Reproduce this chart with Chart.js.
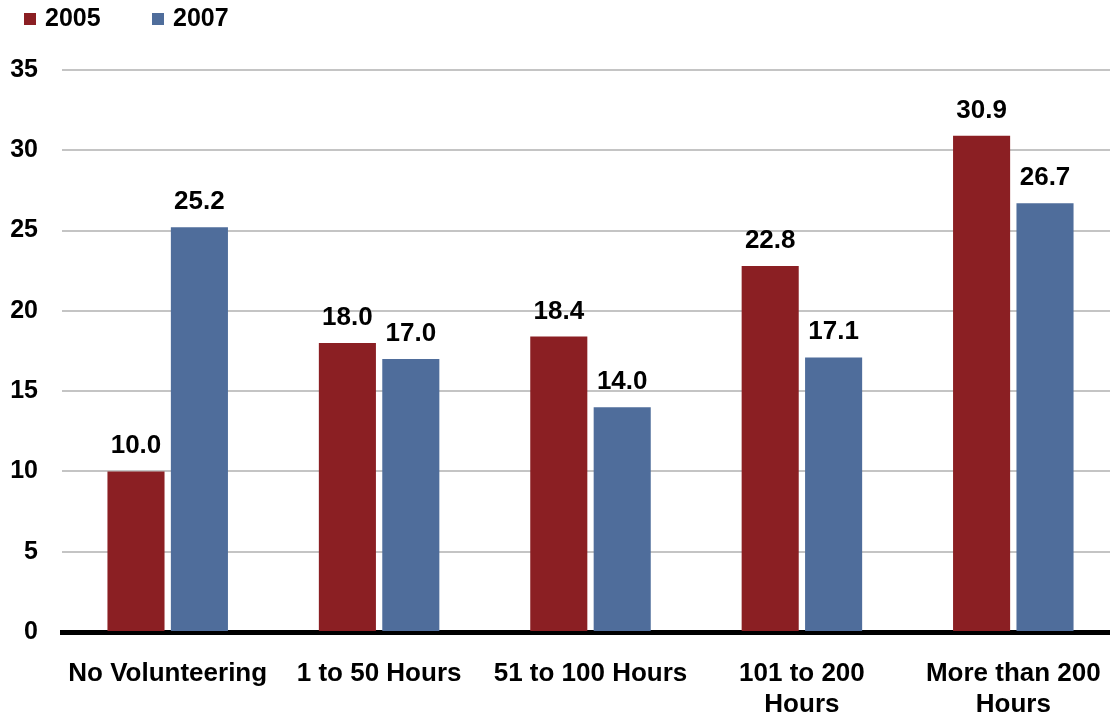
<!DOCTYPE html>
<html lang="en">

<head>
    <meta charset="UTF-8">
    <title>Volunteering Hours 2005 vs 2007</title>
    <script src="https://cdn.jsdelivr.net/npm/chart.js"></script>
    <style>
        html, body { margin: 0; padding: 0; background: #fff; overflow: hidden; }
        /* slightly wider than the window: the plot runs off the right edge like the original */
        #wrap { width: 1119px; height: 716px; }
    </style>
</head>

<body>
    <div id="wrap"><canvas id="hoursChart"></canvas></div>

    <script>
        // Chart values
        const categories = ['No Volunteering', '1 to 50 Hours', '51 to 100 Hours', ['101 to 200', 'Hours'], ['More than 200', 'Hours']];
        const values2005 = [10.0, 18.0, 18.4, 22.8, 30.9];
        const values2007 = [25.2, 17.0, 14.0, 17.1, 26.7];
        const yTicks = [0, 5, 10, 15, 20, 25, 30, 35];

        const fontFamily = 'Arial, "Liberation Sans", sans-serif';

        // value labels above each bar
        const valueLabels = {
            id: 'valueLabels',
            afterDatasetsDraw(chart) {
                const ctx = chart.ctx;
                ctx.save();
                ctx.font = 'bold 26px ' + fontFamily;
                ctx.fillStyle = '#000';
                ctx.textAlign = 'center';
                ctx.textBaseline = 'alphabetic';
                chart.data.datasets.forEach((ds, i) => {
                    chart.getDatasetMeta(i).data.forEach((bar, j) => {
                        ctx.fillText(ds.data[j].toFixed(1), bar.x, bar.y - 18);
                    });
                });
                ctx.restore();
            }
        };

        // small legend in the top left corner
        const topLegend = {
            id: 'topLegend',
            afterDraw(chart) {
                const ctx = chart.ctx;
                ctx.save();
                ctx.font = 'bold 25px ' + fontFamily;
                ctx.textBaseline = 'middle';
                ctx.textAlign = 'left';
                let x = 24;
                chart.data.datasets.forEach(ds => {
                    ctx.fillStyle = ds.backgroundColor;
                    ctx.fillRect(x, 13, 12, 12);
                    ctx.fillStyle = '#000';
                    ctx.fillText(ds.label, x + 21, 19);
                    x += 128;
                });
                ctx.restore();
            }
        };

        const ctx = document.getElementById('hoursChart').getContext('2d');
        const myChart = new Chart(ctx, {
            type: 'bar',
            data: {
                labels: categories,
                datasets: [{
                    label: '2005',
                    data: values2005,
                    backgroundColor: '#8B1F23'
                }, {
                    label: '2007',
                    data: values2007,
                    backgroundColor: '#4F6D9B'
                }]
            },
            options: {
                responsive: true,
                maintainAspectRatio: false,
                animation: false,
                categoryPercentage: 0.6,
                barPercentage: 0.9,
                layout: {
                    padding: { top: 70, left: 10, right: 0, bottom: 0 }
                },
                scales: {
                    x: {
                        grid: { display: false },
                        border: { color: '#000', width: 5 },
                        afterFit: axis => { axis.height = 84; axis.paddingLeft = 0; axis.paddingRight = 0; },
                        ticks: {
                            color: '#000',
                            padding: 18,
                            maxRotation: 0,
                            font: { family: fontFamily, size: 26, weight: 'bold', lineHeight: 1.2 }
                        }
                    },
                    y: {
                        min: 0,
                        max: 35,
                        afterBuildTicks: axis => { axis.ticks = yTicks.map(v => ({ value: v })); },
                        afterFit: axis => { axis.width = 52; },
                        grid: { color: '#C4C4C4', lineWidth: 2, drawTicks: false },
                        border: { display: false },
                        ticks: {
                            color: '#000',
                            padding: 24,
                            font: { family: fontFamily, size: 25, weight: 'bold' }
                        }
                    }
                },
                plugins: {
                    legend: { display: false },
                    tooltip: { enabled: false }
                }
            },
            plugins: [valueLabels, topLegend]
        });
    </script>
</body>

</html>
